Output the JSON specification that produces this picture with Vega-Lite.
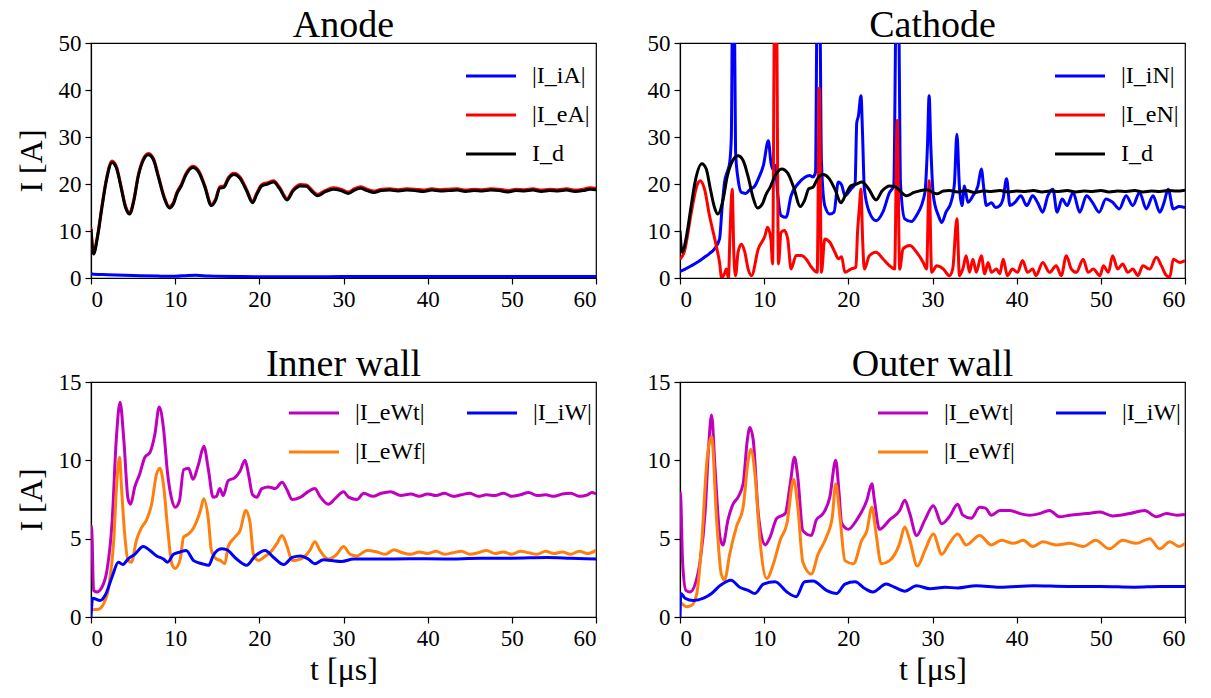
{
  "$schema": "https://vega.github.io/schema/vega-lite/v6.json",
  "background": "white",
  "padding": {"left": 14, "top": 6, "right": 10, "bottom": 4},
  "config": {
    "font": "Liberation Serif",
    "view": {"stroke": "black", "strokeWidth": 1.2},
    "axis": {"grid": false, "domainColor": "black", "domainWidth": 1.2, "tickColor": "black", "tickWidth": 1.2, "tickSize": 6, "labelColor": "black", "labelFontSize": 23, "labelFont": "Liberation Serif", "labelPadding": 4, "titleFont": "Liberation Serif", "titleFontSize": 32, "titleFontWeight": "normal", "titleColor": "black"},
    "title": {"fontSize": 38, "fontWeight": "normal", "font": "Liberation Serif", "color": "black", "offset": -13},
    "legend": {"orient": "top-right", "symbolType": "stroke", "symbolSize": 2500, "symbolStrokeWidth": 3.2, "labelFont": "Liberation Serif", "labelFontSize": 24, "labelColor": "black", "labelOffset": 14, "rowPadding": -16, "title": null, "padding": 0}
  },
  "datasets": {
    "anode": [
      {"s":"|I_iA|","t":0,"v":0.9},{"s":"|I_iA|","t":0.3,"v":0.8},{"s":"|I_iA|","t":2,"v":0.7},{"s":"|I_iA|","t":5,"v":0.55},{"s":"|I_iA|","t":8,"v":0.4},{"s":"|I_iA|","t":10,"v":0.35},{"s":"|I_iA|","t":11.5,"v":0.55},{"s":"|I_iA|","t":12.5,"v":0.6},{"s":"|I_iA|","t":14,"v":0.4},{"s":"|I_iA|","t":18,"v":0.3},{"s":"|I_iA|","t":25,"v":0.25},{"s":"|I_iA|","t":30,"v":0.3},{"s":"|I_iA|","t":40,"v":0.3},{"s":"|I_iA|","t":50,"v":0.3},{"s":"|I_iA|","t":60,"v":0.3},
      {"s":"|I_eA|","t":0,"v":10.7},{"s":"|I_eA|","t":0.3,"v":5.4},{"s":"|I_eA|","t":0.8,"v":9.3},{"s":"|I_eA|","t":1.3,"v":15.3},{"s":"|I_eA|","t":1.8,"v":20.8},{"s":"|I_eA|","t":2.5,"v":24.9},{"s":"|I_eA|","t":3.0,"v":23.8},{"s":"|I_eA|","t":3.6,"v":19.3},{"s":"|I_eA|","t":4.1,"v":15.3},{"s":"|I_eA|","t":4.6,"v":13.9},{"s":"|I_eA|","t":5.1,"v":16.8},{"s":"|I_eA|","t":5.6,"v":21.8},{"s":"|I_eA|","t":6.2,"v":25.3},{"s":"|I_eA|","t":6.8,"v":26.5},{"s":"|I_eA|","t":7.4,"v":25.5},{"s":"|I_eA|","t":8.0,"v":21.8},{"s":"|I_eA|","t":8.7,"v":17.3},{"s":"|I_eA|","t":9.3,"v":15.2},{"s":"|I_eA|","t":9.8,"v":16.1},{"s":"|I_eA|","t":10.2,"v":18.2},{"s":"|I_eA|","t":10.7,"v":19.8},{"s":"|I_eA|","t":11.3,"v":22.3},{"s":"|I_eA|","t":12.1,"v":23.8},{"s":"|I_eA|","t":12.8,"v":22.8},{"s":"|I_eA|","t":13.5,"v":19.8},{"s":"|I_eA|","t":14.3,"v":15.7},{"s":"|I_eA|","t":14.8,"v":16.8},{"s":"|I_eA|","t":15.3,"v":19.4},{"s":"|I_eA|","t":15.8,"v":19.6},{"s":"|I_eA|","t":16.3,"v":21.3},{"s":"|I_eA|","t":17.0,"v":22.3},{"s":"|I_eA|","t":17.7,"v":21.5},{"s":"|I_eA|","t":18.5,"v":18.8},{"s":"|I_eA|","t":19.2,"v":16.3},{"s":"|I_eA|","t":19.7,"v":18.1},{"s":"|I_eA|","t":20.3,"v":19.9},{"s":"|I_eA|","t":21.0,"v":20.3},{"s":"|I_eA|","t":21.7,"v":20.7},{"s":"|I_eA|","t":22.4,"v":19.3},{"s":"|I_eA|","t":23.3,"v":16.9},{"s":"|I_eA|","t":24.0,"v":18.8},{"s":"|I_eA|","t":24.9,"v":19.9},{"s":"|I_eA|","t":25.6,"v":19.8},{"s":"|I_eA|","t":26.2,"v":18.8},{"s":"|I_eA|","t":26.9,"v":17.8},{"s":"|I_eA|","t":27.8,"v":18.6},{"s":"|I_eA|","t":28.8,"v":19.2},{"s":"|I_eA|","t":29.7,"v":18.9},{"s":"|I_eA|","t":30.6,"v":18.3},{"s":"|I_eA|","t":31.3,"v":19.0},{"s":"|I_eA|","t":32.0,"v":19.4},{"s":"|I_eA|","t":32.8,"v":18.9},{"s":"|I_eA|","t":33.6,"v":18.5},{"s":"|I_eA|","t":34.5,"v":18.9},{"s":"|I_eA|","t":35.5,"v":19.0},{"s":"|I_eA|","t":36.5,"v":18.8},{"s":"|I_eA|","t":37.5,"v":19.0},{"s":"|I_eA|","t":38.5,"v":18.9},{"s":"|I_eA|","t":39.5,"v":18.7},{"s":"|I_eA|","t":40.5,"v":19.0},{"s":"|I_eA|","t":41.5,"v":18.8},{"s":"|I_eA|","t":42.5,"v":18.9},{"s":"|I_eA|","t":43.5,"v":19.0},{"s":"|I_eA|","t":44.5,"v":18.7},{"s":"|I_eA|","t":45.5,"v":18.9},{"s":"|I_eA|","t":46.5,"v":18.8},{"s":"|I_eA|","t":47.5,"v":19.0},{"s":"|I_eA|","t":48.5,"v":18.9},{"s":"|I_eA|","t":49.5,"v":18.6},{"s":"|I_eA|","t":50.5,"v":18.9},{"s":"|I_eA|","t":51.5,"v":18.8},{"s":"|I_eA|","t":52.5,"v":19.0},{"s":"|I_eA|","t":53.5,"v":18.7},{"s":"|I_eA|","t":54.5,"v":18.9},{"s":"|I_eA|","t":55.5,"v":18.8},{"s":"|I_eA|","t":56.5,"v":19.0},{"s":"|I_eA|","t":57.5,"v":18.7},{"s":"|I_eA|","t":58.5,"v":18.9},{"s":"|I_eA|","t":59.3,"v":19.2},{"s":"|I_eA|","t":60,"v":19.1},
      {"s":"I_d","t":0,"v":10.4},{"s":"I_d","t":0.3,"v":5.1},{"s":"I_d","t":0.8,"v":9},{"s":"I_d","t":1.3,"v":15},{"s":"I_d","t":1.8,"v":20.5},{"s":"I_d","t":2.5,"v":24.6},{"s":"I_d","t":3.0,"v":23.5},{"s":"I_d","t":3.6,"v":19},{"s":"I_d","t":4.1,"v":15},{"s":"I_d","t":4.6,"v":13.6},{"s":"I_d","t":5.1,"v":16.5},{"s":"I_d","t":5.6,"v":21.5},{"s":"I_d","t":6.2,"v":25},{"s":"I_d","t":6.8,"v":26.2},{"s":"I_d","t":7.4,"v":25.2},{"s":"I_d","t":8.0,"v":21.5},{"s":"I_d","t":8.7,"v":17},{"s":"I_d","t":9.3,"v":14.9},{"s":"I_d","t":9.8,"v":15.8},{"s":"I_d","t":10.2,"v":17.9},{"s":"I_d","t":10.7,"v":19.5},{"s":"I_d","t":11.3,"v":22},{"s":"I_d","t":12.1,"v":23.5},{"s":"I_d","t":12.8,"v":22.5},{"s":"I_d","t":13.5,"v":19.5},{"s":"I_d","t":14.3,"v":15.4},{"s":"I_d","t":14.8,"v":16.5},{"s":"I_d","t":15.3,"v":19.1},{"s":"I_d","t":15.8,"v":19.3},{"s":"I_d","t":16.3,"v":21},{"s":"I_d","t":17.0,"v":22.0},{"s":"I_d","t":17.7,"v":21.2},{"s":"I_d","t":18.5,"v":18.5},{"s":"I_d","t":19.2,"v":16.0},{"s":"I_d","t":19.7,"v":17.8},{"s":"I_d","t":20.3,"v":19.6},{"s":"I_d","t":21.0,"v":20.0},{"s":"I_d","t":21.7,"v":20.4},{"s":"I_d","t":22.4,"v":19},{"s":"I_d","t":23.3,"v":16.6},{"s":"I_d","t":24.0,"v":18.5},{"s":"I_d","t":24.9,"v":19.6},{"s":"I_d","t":25.6,"v":19.5},{"s":"I_d","t":26.2,"v":18.5},{"s":"I_d","t":26.9,"v":17.5},{"s":"I_d","t":27.8,"v":18.3},{"s":"I_d","t":28.8,"v":18.9},{"s":"I_d","t":29.7,"v":18.6},{"s":"I_d","t":30.6,"v":18.0},{"s":"I_d","t":31.3,"v":18.7},{"s":"I_d","t":32.0,"v":19.1},{"s":"I_d","t":32.8,"v":18.6},{"s":"I_d","t":33.6,"v":18.2},{"s":"I_d","t":34.5,"v":18.6},{"s":"I_d","t":35.5,"v":18.7},{"s":"I_d","t":36.5,"v":18.5},{"s":"I_d","t":37.5,"v":18.7},{"s":"I_d","t":38.5,"v":18.6},{"s":"I_d","t":39.5,"v":18.4},{"s":"I_d","t":40.5,"v":18.7},{"s":"I_d","t":41.5,"v":18.5},{"s":"I_d","t":42.5,"v":18.6},{"s":"I_d","t":43.5,"v":18.7},{"s":"I_d","t":44.5,"v":18.4},{"s":"I_d","t":45.5,"v":18.6},{"s":"I_d","t":46.5,"v":18.5},{"s":"I_d","t":47.5,"v":18.7},{"s":"I_d","t":48.5,"v":18.6},{"s":"I_d","t":49.5,"v":18.3},{"s":"I_d","t":50.5,"v":18.6},{"s":"I_d","t":51.5,"v":18.5},{"s":"I_d","t":52.5,"v":18.7},{"s":"I_d","t":53.5,"v":18.4},{"s":"I_d","t":54.5,"v":18.6},{"s":"I_d","t":55.5,"v":18.5},{"s":"I_d","t":56.5,"v":18.7},{"s":"I_d","t":57.5,"v":18.4},{"s":"I_d","t":58.5,"v":18.6},{"s":"I_d","t":59.3,"v":18.9},{"s":"I_d","t":60,"v":18.8}
    ],
    "cathode": [
      {"s":"|I_iN|","t":0,"v":1.4},{"s":"|I_iN|","t":0.5,"v":1.8},{"s":"|I_iN|","t":1.35,"v":2.6},{"s":"|I_iN|","t":2.2,"v":3.5},{"s":"|I_iN|","t":2.9,"v":4.4},{"s":"|I_iN|","t":3.5,"v":5.2},{"s":"|I_iN|","t":4.1,"v":6.2},{"s":"|I_iN|","t":4.7,"v":8.3},{"s":"|I_iN|","t":5.0,"v":15},{"s":"|I_iN|","t":5.3,"v":20.5},{"s":"|I_iN|","t":5.6,"v":22.5},{"s":"|I_iN|","t":5.9,"v":24.5},{"s":"|I_iN|","t":6.1,"v":30},{"s":"|I_iN|","t":6.25,"v":60},{"s":"|I_iN|","t":6.45,"v":60},{"s":"|I_iN|","t":6.6,"v":27},{"s":"|I_iN|","t":6.9,"v":21},{"s":"|I_iN|","t":7.3,"v":18.2},{"s":"|I_iN|","t":7.8,"v":18.0},{"s":"|I_iN|","t":8.3,"v":18.8},{"s":"|I_iN|","t":8.9,"v":19.6},{"s":"|I_iN|","t":9.4,"v":21.5},{"s":"|I_iN|","t":9.9,"v":23.9},{"s":"|I_iN|","t":10.5,"v":29.2},{"s":"|I_iN|","t":10.8,"v":24.6},{"s":"|I_iN|","t":11.1,"v":23},{"s":"|I_iN|","t":11.3,"v":24},{"s":"|I_iN|","t":11.6,"v":18},{"s":"|I_iN|","t":12.0,"v":13.3},{"s":"|I_iN|","t":12.6,"v":12.9},{"s":"|I_iN|","t":13.2,"v":17.5},{"s":"|I_iN|","t":14.0,"v":20.0},{"s":"|I_iN|","t":14.8,"v":21.4},{"s":"|I_iN|","t":15.4,"v":21.8},{"s":"|I_iN|","t":15.8,"v":21.5},{"s":"|I_iN|","t":16.1,"v":22.5},{"s":"|I_iN|","t":16.3,"v":60},{"s":"|I_iN|","t":16.6,"v":60},{"s":"|I_iN|","t":16.8,"v":25},{"s":"|I_iN|","t":17.2,"v":15.4},{"s":"|I_iN|","t":17.8,"v":13.6},{"s":"|I_iN|","t":18.3,"v":14},{"s":"|I_iN|","t":18.8,"v":20.4},{"s":"|I_iN|","t":19.2,"v":19.8},{"s":"|I_iN|","t":19.6,"v":17.5},{"s":"|I_iN|","t":20.3,"v":18.9},{"s":"|I_iN|","t":20.8,"v":20},{"s":"|I_iN|","t":21.0,"v":33},{"s":"|I_iN|","t":21.2,"v":34.5},{"s":"|I_iN|","t":21.5,"v":38.8},{"s":"|I_iN|","t":21.7,"v":30},{"s":"|I_iN|","t":21.9,"v":19},{"s":"|I_iN|","t":22.5,"v":14.0},{"s":"|I_iN|","t":23.3,"v":12.2},{"s":"|I_iN|","t":24.1,"v":14.0},{"s":"|I_iN|","t":24.9,"v":18.2},{"s":"|I_iN|","t":25.4,"v":19.6},{"s":"|I_iN|","t":25.7,"v":60},{"s":"|I_iN|","t":25.95,"v":60},{"s":"|I_iN|","t":26.2,"v":20},{"s":"|I_iN|","t":26.7,"v":12.6},{"s":"|I_iN|","t":27.5,"v":12.0},{"s":"|I_iN|","t":28.1,"v":13.3},{"s":"|I_iN|","t":29.1,"v":18.2},{"s":"|I_iN|","t":29.4,"v":28},{"s":"|I_iN|","t":29.6,"v":38.8},{"s":"|I_iN|","t":29.8,"v":28},{"s":"|I_iN|","t":30.1,"v":17.5},{"s":"|I_iN|","t":30.7,"v":13.3},{"s":"|I_iN|","t":31.1,"v":11.8},{"s":"|I_iN|","t":31.6,"v":14.0},{"s":"|I_iN|","t":32.2,"v":16.1},{"s":"|I_iN|","t":32.6,"v":20},{"s":"|I_iN|","t":32.9,"v":30.6},{"s":"|I_iN|","t":33.2,"v":19.3},{"s":"|I_iN|","t":33.5,"v":15.4},{"s":"|I_iN|","t":33.8,"v":19.6},{"s":"|I_iN|","t":34.2,"v":16.1},{"s":"|I_iN|","t":34.8,"v":17.5},{"s":"|I_iN|","t":35.4,"v":19.6},{"s":"|I_iN|","t":35.8,"v":23.2},{"s":"|I_iN|","t":36.1,"v":19},{"s":"|I_iN|","t":36.4,"v":15.4},{"s":"|I_iN|","t":37.0,"v":16},{"s":"|I_iN|","t":37.5,"v":15},{"s":"|I_iN|","t":38.0,"v":15.4},{"s":"|I_iN|","t":38.4,"v":17},{"s":"|I_iN|","t":38.8,"v":21.1},{"s":"|I_iN|","t":39.2,"v":15.4},{"s":"|I_iN|","t":39.8,"v":16.1},{"s":"|I_iN|","t":40.5,"v":17.5},{"s":"|I_iN|","t":41.2,"v":15.4},{"s":"|I_iN|","t":41.9,"v":17.5},{"s":"|I_iN|","t":42.5,"v":16},{"s":"|I_iN|","t":43.1,"v":14.0},{"s":"|I_iN|","t":43.7,"v":17.5},{"s":"|I_iN|","t":44.3,"v":18.9},{"s":"|I_iN|","t":44.8,"v":14.0},{"s":"|I_iN|","t":45.4,"v":16.8},{"s":"|I_iN|","t":46.0,"v":15.4},{"s":"|I_iN|","t":46.7,"v":18.2},{"s":"|I_iN|","t":47.5,"v":14.0},{"s":"|I_iN|","t":48.3,"v":17.5},{"s":"|I_iN|","t":49.0,"v":16.1},{"s":"|I_iN|","t":49.8,"v":14.0},{"s":"|I_iN|","t":50.6,"v":16.8},{"s":"|I_iN|","t":51.4,"v":16.1},{"s":"|I_iN|","t":52.2,"v":14.7},{"s":"|I_iN|","t":53.0,"v":17.5},{"s":"|I_iN|","t":53.8,"v":15.4},{"s":"|I_iN|","t":54.6,"v":18.2},{"s":"|I_iN|","t":55.4,"v":14.7},{"s":"|I_iN|","t":56.2,"v":17.5},{"s":"|I_iN|","t":57.0,"v":14.0},{"s":"|I_iN|","t":57.5,"v":16},{"s":"|I_iN|","t":58.0,"v":18.9},{"s":"|I_iN|","t":58.6,"v":14.7},{"s":"|I_iN|","t":59.3,"v":15.2},{"s":"|I_iN|","t":60,"v":15.0},
      {"s":"|I_eN|","t":0,"v":4.0},{"s":"|I_eN|","t":0.5,"v":5.5},{"s":"|I_eN|","t":1.35,"v":14},{"s":"|I_eN|","t":2.0,"v":19.6},{"s":"|I_eN|","t":2.4,"v":20.7},{"s":"|I_eN|","t":2.9,"v":19},{"s":"|I_eN|","t":3.5,"v":13.3},{"s":"|I_eN|","t":4.3,"v":6.9},{"s":"|I_eN|","t":4.7,"v":3.3},{"s":"|I_eN|","t":4.95,"v":0},{"s":"|I_eN|","t":5.3,"v":1},{"s":"|I_eN|","t":5.5,"v":1.9},{"s":"|I_eN|","t":5.75,"v":0},{"s":"|I_eN|","t":5.95,"v":10},{"s":"|I_eN|","t":6.2,"v":18.9},{"s":"|I_eN|","t":6.4,"v":5},{"s":"|I_eN|","t":6.6,"v":0.5},{"s":"|I_eN|","t":6.9,"v":5.5},{"s":"|I_eN|","t":7.3,"v":7.2},{"s":"|I_eN|","t":7.7,"v":5.5},{"s":"|I_eN|","t":8.1,"v":1.9},{"s":"|I_eN|","t":8.5,"v":0.5},{"s":"|I_eN|","t":9.3,"v":6.2},{"s":"|I_eN|","t":10.1,"v":9.0},{"s":"|I_eN|","t":10.4,"v":10.8},{"s":"|I_eN|","t":10.8,"v":8.3},{"s":"|I_eN|","t":11.0,"v":3},{"s":"|I_eN|","t":11.25,"v":60},{"s":"|I_eN|","t":11.45,"v":60},{"s":"|I_eN|","t":11.7,"v":3},{"s":"|I_eN|","t":12.0,"v":9.7},{"s":"|I_eN|","t":12.4,"v":10.1},{"s":"|I_eN|","t":12.8,"v":8.3},{"s":"|I_eN|","t":13.2,"v":1.9},{"s":"|I_eN|","t":13.8,"v":4.8},{"s":"|I_eN|","t":14.4,"v":4.8},{"s":"|I_eN|","t":15.0,"v":4.0},{"s":"|I_eN|","t":15.5,"v":2.6},{"s":"|I_eN|","t":16.0,"v":1.5},{"s":"|I_eN|","t":16.3,"v":1.2},{"s":"|I_eN|","t":16.55,"v":40.4},{"s":"|I_eN|","t":16.8,"v":1.2},{"s":"|I_eN|","t":17.2,"v":8.3},{"s":"|I_eN|","t":17.8,"v":7.6},{"s":"|I_eN|","t":18.4,"v":5.5},{"s":"|I_eN|","t":18.8,"v":4.1},{"s":"|I_eN|","t":19.2,"v":4.5},{"s":"|I_eN|","t":19.6,"v":1.2},{"s":"|I_eN|","t":20.3,"v":1.9},{"s":"|I_eN|","t":20.9,"v":2.3},{"s":"|I_eN|","t":21.1,"v":10},{"s":"|I_eN|","t":21.3,"v":14.7},{"s":"|I_eN|","t":21.5,"v":18.9},{"s":"|I_eN|","t":21.7,"v":8},{"s":"|I_eN|","t":21.9,"v":1.9},{"s":"|I_eN|","t":22.5,"v":4.75},{"s":"|I_eN|","t":23.3,"v":5.5},{"s":"|I_eN|","t":24.1,"v":4.1},{"s":"|I_eN|","t":24.9,"v":2.6},{"s":"|I_eN|","t":25.5,"v":1.9},{"s":"|I_eN|","t":25.8,"v":33.5},{"s":"|I_eN|","t":26.1,"v":1.9},{"s":"|I_eN|","t":26.5,"v":6.2},{"s":"|I_eN|","t":27.3,"v":6.9},{"s":"|I_eN|","t":28.1,"v":5.5},{"s":"|I_eN|","t":28.9,"v":3.3},{"s":"|I_eN|","t":29.3,"v":1.9},{"s":"|I_eN|","t":29.6,"v":20.7},{"s":"|I_eN|","t":29.9,"v":1.2},{"s":"|I_eN|","t":30.5,"v":2.6},{"s":"|I_eN|","t":31.3,"v":1.9},{"s":"|I_eN|","t":32.0,"v":0.5},{"s":"|I_eN|","t":32.4,"v":1.9},{"s":"|I_eN|","t":32.9,"v":12.6},{"s":"|I_eN|","t":33.2,"v":0.5},{"s":"|I_eN|","t":33.6,"v":1.9},{"s":"|I_eN|","t":34.0,"v":4.75},{"s":"|I_eN|","t":34.4,"v":1.2},{"s":"|I_eN|","t":34.8,"v":4.0},{"s":"|I_eN|","t":35.2,"v":1.2},{"s":"|I_eN|","t":35.8,"v":4.75},{"s":"|I_eN|","t":36.2,"v":0.9},{"s":"|I_eN|","t":36.6,"v":3.3},{"s":"|I_eN|","t":37.0,"v":1.2},{"s":"|I_eN|","t":37.6,"v":1.9},{"s":"|I_eN|","t":38.0,"v":0.9},{"s":"|I_eN|","t":38.4,"v":4.0},{"s":"|I_eN|","t":38.9,"v":0.5},{"s":"|I_eN|","t":39.5,"v":1.9},{"s":"|I_eN|","t":40.1,"v":1.2},{"s":"|I_eN|","t":40.7,"v":3.7},{"s":"|I_eN|","t":41.3,"v":1.2},{"s":"|I_eN|","t":41.9,"v":1.9},{"s":"|I_eN|","t":42.3,"v":0.5},{"s":"|I_eN|","t":43.1,"v":3.3},{"s":"|I_eN|","t":43.9,"v":1.2},{"s":"|I_eN|","t":44.7,"v":2.6},{"s":"|I_eN|","t":45.3,"v":0.5},{"s":"|I_eN|","t":45.9,"v":4.75},{"s":"|I_eN|","t":46.5,"v":1.9},{"s":"|I_eN|","t":47.1,"v":1.2},{"s":"|I_eN|","t":47.9,"v":4.0},{"s":"|I_eN|","t":48.5,"v":1.2},{"s":"|I_eN|","t":49.1,"v":1.9},{"s":"|I_eN|","t":49.9,"v":0.5},{"s":"|I_eN|","t":50.3,"v":2.6},{"s":"|I_eN|","t":50.9,"v":1.2},{"s":"|I_eN|","t":51.4,"v":4.75},{"s":"|I_eN|","t":52.0,"v":1.9},{"s":"|I_eN|","t":52.6,"v":3.0},{"s":"|I_eN|","t":53.2,"v":1.2},{"s":"|I_eN|","t":53.8,"v":1.9},{"s":"|I_eN|","t":54.4,"v":0.5},{"s":"|I_eN|","t":55.0,"v":2.6},{"s":"|I_eN|","t":55.8,"v":1.9},{"s":"|I_eN|","t":56.6,"v":4.4},{"s":"|I_eN|","t":57.2,"v":2.6},{"s":"|I_eN|","t":57.8,"v":0.5},{"s":"|I_eN|","t":58.2,"v":0.2},{"s":"|I_eN|","t":58.6,"v":4.0},{"s":"|I_eN|","t":59.4,"v":3.3},{"s":"|I_eN|","t":60,"v":3.7},
      {"s":"I_d","t":0,"v":10.1},{"s":"I_d","t":0.25,"v":5.5},{"s":"I_d","t":0.8,"v":9.2},{"s":"I_d","t":1.3,"v":15},{"s":"I_d","t":1.8,"v":20.5},{"s":"I_d","t":2.6,"v":24.3},{"s":"I_d","t":3.1,"v":23.3},{"s":"I_d","t":3.6,"v":19},{"s":"I_d","t":4.1,"v":15},{"s":"I_d","t":4.5,"v":13.6},{"s":"I_d","t":5.1,"v":16.5},{"s":"I_d","t":5.6,"v":21.5},{"s":"I_d","t":6.2,"v":24.8},{"s":"I_d","t":6.9,"v":26.0},{"s":"I_d","t":7.5,"v":25.0},{"s":"I_d","t":8.1,"v":21.5},{"s":"I_d","t":8.7,"v":17},{"s":"I_d","t":9.2,"v":14.9},{"s":"I_d","t":9.8,"v":15.8},{"s":"I_d","t":10.2,"v":17.7},{"s":"I_d","t":10.7,"v":19.3},{"s":"I_d","t":11.3,"v":21.8},{"s":"I_d","t":12.1,"v":23.2},{"s":"I_d","t":12.8,"v":22.3},{"s":"I_d","t":13.5,"v":19.3},{"s":"I_d","t":14.3,"v":15.2},{"s":"I_d","t":14.8,"v":16.5},{"s":"I_d","t":15.3,"v":19.0},{"s":"I_d","t":15.8,"v":19.3},{"s":"I_d","t":16.3,"v":21},{"s":"I_d","t":17.0,"v":22.0},{"s":"I_d","t":17.7,"v":21.2},{"s":"I_d","t":18.5,"v":18.5},{"s":"I_d","t":19.1,"v":16.0},{"s":"I_d","t":19.7,"v":17.8},{"s":"I_d","t":20.3,"v":19.6},{"s":"I_d","t":21.0,"v":20.0},{"s":"I_d","t":21.6,"v":20.4},{"s":"I_d","t":22.4,"v":19},{"s":"I_d","t":23.3,"v":16.6},{"s":"I_d","t":24.0,"v":18.5},{"s":"I_d","t":24.9,"v":19.6},{"s":"I_d","t":25.6,"v":19.4},{"s":"I_d","t":26.2,"v":18.4},{"s":"I_d","t":26.9,"v":17.5},{"s":"I_d","t":27.8,"v":18.2},{"s":"I_d","t":29.3,"v":18.8},{"s":"I_d","t":30.5,"v":17.9},{"s":"I_d","t":31.3,"v":18.5},{"s":"I_d","t":32.0,"v":18.6},{"s":"I_d","t":33.0,"v":18.3},{"s":"I_d","t":34.0,"v":18.6},{"s":"I_d","t":35.0,"v":18.2},{"s":"I_d","t":36.0,"v":18.5},{"s":"I_d","t":37.0,"v":18.4},{"s":"I_d","t":38.0,"v":18.6},{"s":"I_d","t":39.0,"v":18.3},{"s":"I_d","t":40.0,"v":18.5},{"s":"I_d","t":41.0,"v":18.4},{"s":"I_d","t":42.0,"v":18.6},{"s":"I_d","t":43.0,"v":18.3},{"s":"I_d","t":44.0,"v":18.5},{"s":"I_d","t":45.0,"v":18.4},{"s":"I_d","t":46.0,"v":18.6},{"s":"I_d","t":47.0,"v":18.3},{"s":"I_d","t":48.0,"v":18.5},{"s":"I_d","t":49.0,"v":18.4},{"s":"I_d","t":50.0,"v":18.6},{"s":"I_d","t":51.0,"v":18.3},{"s":"I_d","t":52.0,"v":18.5},{"s":"I_d","t":53.0,"v":18.4},{"s":"I_d","t":54.0,"v":18.6},{"s":"I_d","t":55.0,"v":18.3},{"s":"I_d","t":56.0,"v":18.5},{"s":"I_d","t":57.0,"v":18.4},{"s":"I_d","t":58.0,"v":18.6},{"s":"I_d","t":59.0,"v":18.5},{"s":"I_d","t":60,"v":18.7}
    ],
    "inner": [
      {"s":"|I_eWt|","t":0,"v":5.85},{"s":"|I_eWt|","t":0.1,"v":5.5},{"s":"|I_eWt|","t":0.3,"v":1.7},{"s":"|I_eWt|","t":0.7,"v":1.6},{"s":"|I_eWt|","t":1.3,"v":1.9},{"s":"|I_eWt|","t":1.9,"v":3.0},{"s":"|I_eWt|","t":2.5,"v":6.0},{"s":"|I_eWt|","t":3.0,"v":11.3},{"s":"|I_eWt|","t":3.45,"v":13.7},{"s":"|I_eWt|","t":3.9,"v":11.3},{"s":"|I_eWt|","t":4.4,"v":7.55},{"s":"|I_eWt|","t":4.7,"v":7.2},{"s":"|I_eWt|","t":5.2,"v":8.3},{"s":"|I_eWt|","t":5.8,"v":9.15},{"s":"|I_eWt|","t":6.4,"v":10.2},{"s":"|I_eWt|","t":7.0,"v":10.5},{"s":"|I_eWt|","t":7.6,"v":11.7},{"s":"|I_eWt|","t":8.1,"v":13.4},{"s":"|I_eWt|","t":8.6,"v":12.1},{"s":"|I_eWt|","t":9.1,"v":9.15},{"s":"|I_eWt|","t":9.6,"v":7.5},{"s":"|I_eWt|","t":10.0,"v":7.0},{"s":"|I_eWt|","t":10.5,"v":7.4},{"s":"|I_eWt|","t":11.0,"v":9.4},{"s":"|I_eWt|","t":11.6,"v":9.5},{"s":"|I_eWt|","t":12.1,"v":8.8},{"s":"|I_eWt|","t":12.8,"v":9.8},{"s":"|I_eWt|","t":13.4,"v":10.9},{"s":"|I_eWt|","t":13.95,"v":9.4},{"s":"|I_eWt|","t":14.5,"v":7.65},{"s":"|I_eWt|","t":14.9,"v":7.7},{"s":"|I_eWt|","t":15.3,"v":8.2},{"s":"|I_eWt|","t":15.7,"v":7.75},{"s":"|I_eWt|","t":16.3,"v":8.7},{"s":"|I_eWt|","t":17.1,"v":8.9},{"s":"|I_eWt|","t":17.7,"v":9.3},{"s":"|I_eWt|","t":18.3,"v":10.0},{"s":"|I_eWt|","t":18.7,"v":9.15},{"s":"|I_eWt|","t":19.2,"v":7.8},{"s":"|I_eWt|","t":19.7,"v":7.65},{"s":"|I_eWt|","t":20.3,"v":8.2},{"s":"|I_eWt|","t":21.1,"v":8.3},{"s":"|I_eWt|","t":21.9,"v":8.2},{"s":"|I_eWt|","t":22.7,"v":8.6},{"s":"|I_eWt|","t":23.3,"v":8.1},{"s":"|I_eWt|","t":23.9,"v":7.5},{"s":"|I_eWt|","t":24.9,"v":7.65},{"s":"|I_eWt|","t":25.8,"v":8.0},{"s":"|I_eWt|","t":26.6,"v":8.2},{"s":"|I_eWt|","t":27.2,"v":7.7},{"s":"|I_eWt|","t":28.2,"v":7.2},{"s":"|I_eWt|","t":29.0,"v":7.55},{"s":"|I_eWt|","t":30.0,"v":8.0},{"s":"|I_eWt|","t":30.6,"v":7.65},{"s":"|I_eWt|","t":31.6,"v":7.5},{"s":"|I_eWt|","t":32.4,"v":7.9},{"s":"|I_eWt|","t":33.5,"v":7.7},{"s":"|I_eWt|","t":34.5,"v":7.9},{"s":"|I_eWt|","t":35.6,"v":8.0},{"s":"|I_eWt|","t":36.8,"v":7.75},{"s":"|I_eWt|","t":38.0,"v":7.85},{"s":"|I_eWt|","t":39.0,"v":7.7},{"s":"|I_eWt|","t":40.0,"v":7.85},{"s":"|I_eWt|","t":41.0,"v":7.75},{"s":"|I_eWt|","t":42.0,"v":7.9},{"s":"|I_eWt|","t":43.0,"v":7.7},{"s":"|I_eWt|","t":44.0,"v":7.8},{"s":"|I_eWt|","t":45.0,"v":7.9},{"s":"|I_eWt|","t":46.0,"v":7.7},{"s":"|I_eWt|","t":47.0,"v":7.8},{"s":"|I_eWt|","t":48.0,"v":7.75},{"s":"|I_eWt|","t":49.0,"v":7.9},{"s":"|I_eWt|","t":50.0,"v":7.7},{"s":"|I_eWt|","t":51.0,"v":7.8},{"s":"|I_eWt|","t":52.0,"v":7.95},{"s":"|I_eWt|","t":53.0,"v":7.75},{"s":"|I_eWt|","t":54.0,"v":7.8},{"s":"|I_eWt|","t":55.0,"v":7.7},{"s":"|I_eWt|","t":56.0,"v":7.85},{"s":"|I_eWt|","t":57.0,"v":7.9},{"s":"|I_eWt|","t":58.0,"v":7.7},{"s":"|I_eWt|","t":59.0,"v":7.8},{"s":"|I_eWt|","t":59.5,"v":7.95},{"s":"|I_eWt|","t":60,"v":7.85},
      {"s":"|I_eWf|","t":0,"v":0.5},{"s":"|I_eWf|","t":0.2,"v":0.47},{"s":"|I_eWf|","t":0.9,"v":0.5},{"s":"|I_eWf|","t":1.5,"v":0.85},{"s":"|I_eWf|","t":2.1,"v":1.9},{"s":"|I_eWf|","t":2.7,"v":4.9},{"s":"|I_eWf|","t":3.1,"v":8.9},{"s":"|I_eWf|","t":3.4,"v":10.2},{"s":"|I_eWf|","t":3.6,"v":8.5},{"s":"|I_eWf|","t":4.0,"v":5.3},{"s":"|I_eWf|","t":4.4,"v":3.6},{"s":"|I_eWf|","t":4.8,"v":3.5},{"s":"|I_eWf|","t":5.4,"v":4.9},{"s":"|I_eWf|","t":6.0,"v":5.7},{"s":"|I_eWf|","t":6.6,"v":6.2},{"s":"|I_eWf|","t":7.2,"v":7.2},{"s":"|I_eWf|","t":7.8,"v":9.15},{"s":"|I_eWf|","t":8.2,"v":9.5},{"s":"|I_eWf|","t":8.6,"v":8.5},{"s":"|I_eWf|","t":9.1,"v":5.7},{"s":"|I_eWf|","t":9.6,"v":3.4},{"s":"|I_eWf|","t":10.0,"v":3.1},{"s":"|I_eWf|","t":10.6,"v":3.7},{"s":"|I_eWf|","t":11.0,"v":5.1},{"s":"|I_eWf|","t":11.6,"v":5.3},{"s":"|I_eWf|","t":12.2,"v":5.7},{"s":"|I_eWf|","t":13.0,"v":6.8},{"s":"|I_eWf|","t":13.4,"v":7.55},{"s":"|I_eWf|","t":13.95,"v":6.2},{"s":"|I_eWf|","t":14.3,"v":4.25},{"s":"|I_eWf|","t":14.9,"v":3.7},{"s":"|I_eWf|","t":15.4,"v":3.6},{"s":"|I_eWf|","t":15.9,"v":3.4},{"s":"|I_eWf|","t":16.3,"v":4.5},{"s":"|I_eWf|","t":17.1,"v":5.1},{"s":"|I_eWf|","t":17.7,"v":5.5},{"s":"|I_eWf|","t":18.4,"v":6.8},{"s":"|I_eWf|","t":18.9,"v":6.0},{"s":"|I_eWf|","t":19.3,"v":4.0},{"s":"|I_eWf|","t":19.9,"v":3.6},{"s":"|I_eWf|","t":20.5,"v":3.8},{"s":"|I_eWf|","t":21.5,"v":4.25},{"s":"|I_eWf|","t":22.1,"v":4.7},{"s":"|I_eWf|","t":22.7,"v":5.2},{"s":"|I_eWf|","t":23.3,"v":4.5},{"s":"|I_eWf|","t":23.9,"v":3.6},{"s":"|I_eWf|","t":24.9,"v":3.7},{"s":"|I_eWf|","t":26.0,"v":4.25},{"s":"|I_eWf|","t":26.6,"v":4.8},{"s":"|I_eWf|","t":27.2,"v":4.25},{"s":"|I_eWf|","t":28.2,"v":3.7},{"s":"|I_eWf|","t":29.2,"v":4.0},{"s":"|I_eWf|","t":30.0,"v":4.5},{"s":"|I_eWf|","t":30.8,"v":4.0},{"s":"|I_eWf|","t":31.6,"v":3.9},{"s":"|I_eWf|","t":32.8,"v":4.25},{"s":"|I_eWf|","t":34.0,"v":4.15},{"s":"|I_eWf|","t":35.0,"v":4.0},{"s":"|I_eWf|","t":36.0,"v":4.3},{"s":"|I_eWf|","t":37.0,"v":4.1},{"s":"|I_eWf|","t":38.0,"v":4.0},{"s":"|I_eWf|","t":39.0,"v":4.15},{"s":"|I_eWf|","t":40.0,"v":4.05},{"s":"|I_eWf|","t":41.0,"v":4.2},{"s":"|I_eWf|","t":42.0,"v":4.0},{"s":"|I_eWf|","t":43.0,"v":4.1},{"s":"|I_eWf|","t":44.0,"v":4.2},{"s":"|I_eWf|","t":45.0,"v":4.0},{"s":"|I_eWf|","t":46.0,"v":4.1},{"s":"|I_eWf|","t":47.0,"v":4.25},{"s":"|I_eWf|","t":48.0,"v":4.05},{"s":"|I_eWf|","t":49.0,"v":4.15},{"s":"|I_eWf|","t":50.0,"v":4.0},{"s":"|I_eWf|","t":51.0,"v":4.2},{"s":"|I_eWf|","t":52.0,"v":4.1},{"s":"|I_eWf|","t":53.0,"v":4.0},{"s":"|I_eWf|","t":54.0,"v":4.2},{"s":"|I_eWf|","t":55.0,"v":4.05},{"s":"|I_eWf|","t":56.0,"v":4.15},{"s":"|I_eWf|","t":57.0,"v":4.0},{"s":"|I_eWf|","t":58.0,"v":4.2},{"s":"|I_eWf|","t":59.0,"v":4.05},{"s":"|I_eWf|","t":60,"v":4.25},
      {"s":"|I_iW|","t":0,"v":0},{"s":"|I_iW|","t":0.2,"v":1.2},{"s":"|I_iW|","t":1.1,"v":1.05},{"s":"|I_iW|","t":1.7,"v":1.4},{"s":"|I_iW|","t":2.5,"v":2.55},{"s":"|I_iW|","t":3.25,"v":3.5},{"s":"|I_iW|","t":3.8,"v":3.35},{"s":"|I_iW|","t":4.4,"v":3.7},{"s":"|I_iW|","t":5.2,"v":4.0},{"s":"|I_iW|","t":6.2,"v":4.5},{"s":"|I_iW|","t":7.0,"v":4.25},{"s":"|I_iW|","t":7.8,"v":3.9},{"s":"|I_iW|","t":8.6,"v":3.7},{"s":"|I_iW|","t":9.1,"v":3.5},{"s":"|I_iW|","t":9.8,"v":4.0},{"s":"|I_iW|","t":10.6,"v":4.15},{"s":"|I_iW|","t":11.3,"v":4.25},{"s":"|I_iW|","t":12.2,"v":3.6},{"s":"|I_iW|","t":13.2,"v":3.4},{"s":"|I_iW|","t":14.0,"v":3.3},{"s":"|I_iW|","t":14.5,"v":3.9},{"s":"|I_iW|","t":15.5,"v":4.35},{"s":"|I_iW|","t":16.1,"v":4.3},{"s":"|I_iW|","t":17.3,"v":3.7},{"s":"|I_iW|","t":18.5,"v":3.3},{"s":"|I_iW|","t":19.5,"v":3.9},{"s":"|I_iW|","t":20.7,"v":4.25},{"s":"|I_iW|","t":21.7,"v":3.8},{"s":"|I_iW|","t":22.9,"v":3.35},{"s":"|I_iW|","t":23.9,"v":3.8},{"s":"|I_iW|","t":24.9,"v":3.9},{"s":"|I_iW|","t":25.8,"v":3.7},{"s":"|I_iW|","t":26.6,"v":3.4},{"s":"|I_iW|","t":27.6,"v":3.65},{"s":"|I_iW|","t":28.6,"v":3.6},{"s":"|I_iW|","t":29.8,"v":3.55},{"s":"|I_iW|","t":31.2,"v":3.7},{"s":"|I_iW|","t":34,"v":3.7},{"s":"|I_iW|","t":38,"v":3.72},{"s":"|I_iW|","t":42,"v":3.7},{"s":"|I_iW|","t":46.3,"v":3.75},{"s":"|I_iW|","t":50,"v":3.75},{"s":"|I_iW|","t":54.2,"v":3.8},{"s":"|I_iW|","t":57,"v":3.75},{"s":"|I_iW|","t":60,"v":3.7}
    ],
    "outer": [
      {"s":"|I_eWt|","t":0,"v":8.0},{"s":"|I_eWt|","t":0.1,"v":7.5},{"s":"|I_eWt|","t":0.3,"v":3.6},{"s":"|I_eWt|","t":0.7,"v":1.7},{"s":"|I_eWt|","t":1.2,"v":1.6},{"s":"|I_eWt|","t":1.8,"v":2.1},{"s":"|I_eWt|","t":2.4,"v":3.6},{"s":"|I_eWt|","t":3.0,"v":6.8},{"s":"|I_eWt|","t":3.4,"v":10.85},{"s":"|I_eWt|","t":3.75,"v":12.9},{"s":"|I_eWt|","t":4.15,"v":9.6},{"s":"|I_eWt|","t":4.75,"v":5.1},{"s":"|I_eWt|","t":5.1,"v":4.6},{"s":"|I_eWt|","t":5.7,"v":6.2},{"s":"|I_eWt|","t":6.3,"v":7.2},{"s":"|I_eWt|","t":6.9,"v":7.65},{"s":"|I_eWt|","t":7.5,"v":8.5},{"s":"|I_eWt|","t":8.0,"v":11.3},{"s":"|I_eWt|","t":8.3,"v":12.1},{"s":"|I_eWt|","t":8.7,"v":11.3},{"s":"|I_eWt|","t":9.3,"v":6.6},{"s":"|I_eWt|","t":10.1,"v":4.6},{"s":"|I_eWt|","t":10.7,"v":5.1},{"s":"|I_eWt|","t":11.5,"v":6.3},{"s":"|I_eWt|","t":12.5,"v":6.6},{"s":"|I_eWt|","t":13.1,"v":8.5},{"s":"|I_eWt|","t":13.6,"v":10.2},{"s":"|I_eWt|","t":14.0,"v":8.9},{"s":"|I_eWt|","t":14.6,"v":5.5},{"s":"|I_eWt|","t":15.6,"v":5.2},{"s":"|I_eWt|","t":16.2,"v":6.2},{"s":"|I_eWt|","t":17.0,"v":6.6},{"s":"|I_eWt|","t":17.8,"v":7.65},{"s":"|I_eWt|","t":18.5,"v":10.0},{"s":"|I_eWt|","t":18.9,"v":7.9},{"s":"|I_eWt|","t":19.2,"v":6.0},{"s":"|I_eWt|","t":20.0,"v":5.6},{"s":"|I_eWt|","t":21.0,"v":6.2},{"s":"|I_eWt|","t":22.2,"v":7.45},{"s":"|I_eWt|","t":22.8,"v":8.5},{"s":"|I_eWt|","t":23.1,"v":7.45},{"s":"|I_eWt|","t":23.7,"v":5.6},{"s":"|I_eWt|","t":24.9,"v":6.2},{"s":"|I_eWt|","t":26.1,"v":6.8},{"s":"|I_eWt|","t":26.7,"v":7.45},{"s":"|I_eWt|","t":27.3,"v":6.6},{"s":"|I_eWt|","t":28.1,"v":5.2},{"s":"|I_eWt|","t":29.1,"v":6.2},{"s":"|I_eWt|","t":30.1,"v":7.1},{"s":"|I_eWt|","t":31.1,"v":5.95},{"s":"|I_eWt|","t":32.0,"v":6.4},{"s":"|I_eWt|","t":33.0,"v":7.2},{"s":"|I_eWt|","t":33.6,"v":6.5},{"s":"|I_eWt|","t":34.6,"v":6.3},{"s":"|I_eWt|","t":35.6,"v":7.0},{"s":"|I_eWt|","t":36.3,"v":6.95},{"s":"|I_eWt|","t":37.0,"v":6.5},{"s":"|I_eWt|","t":38.0,"v":6.8},{"s":"|I_eWt|","t":39.2,"v":6.8},{"s":"|I_eWt|","t":40.4,"v":6.6},{"s":"|I_eWt|","t":41.5,"v":6.5},{"s":"|I_eWt|","t":42.7,"v":6.6},{"s":"|I_eWt|","t":43.9,"v":6.8},{"s":"|I_eWt|","t":45.1,"v":6.4},{"s":"|I_eWt|","t":46.3,"v":6.5},{"s":"|I_eWt|","t":48.3,"v":6.6},{"s":"|I_eWt|","t":49.9,"v":6.7},{"s":"|I_eWt|","t":51.4,"v":6.45},{"s":"|I_eWt|","t":53.4,"v":6.6},{"s":"|I_eWt|","t":55.2,"v":6.8},{"s":"|I_eWt|","t":56.6,"v":6.4},{"s":"|I_eWt|","t":57.8,"v":6.6},{"s":"|I_eWt|","t":59.0,"v":6.5},{"s":"|I_eWt|","t":60,"v":6.55},
      {"s":"|I_eWf|","t":0,"v":0.9},{"s":"|I_eWf|","t":0.2,"v":0.85},{"s":"|I_eWf|","t":0.8,"v":0.65},{"s":"|I_eWf|","t":1.4,"v":0.75},{"s":"|I_eWf|","t":2.0,"v":1.5},{"s":"|I_eWf|","t":2.6,"v":4.9},{"s":"|I_eWf|","t":3.2,"v":10.0},{"s":"|I_eWf|","t":3.75,"v":11.5},{"s":"|I_eWf|","t":4.35,"v":6.2},{"s":"|I_eWf|","t":4.9,"v":2.75},{"s":"|I_eWf|","t":5.3,"v":2.35},{"s":"|I_eWf|","t":5.9,"v":4.0},{"s":"|I_eWf|","t":6.7,"v":5.75},{"s":"|I_eWf|","t":7.5,"v":7.0},{"s":"|I_eWf|","t":8.1,"v":10.0},{"s":"|I_eWf|","t":8.4,"v":10.7},{"s":"|I_eWf|","t":8.9,"v":9.15},{"s":"|I_eWf|","t":9.5,"v":4.9},{"s":"|I_eWf|","t":10.3,"v":2.45},{"s":"|I_eWf|","t":11.1,"v":3.4},{"s":"|I_eWf|","t":11.9,"v":4.9},{"s":"|I_eWf|","t":12.7,"v":5.95},{"s":"|I_eWf|","t":13.5,"v":8.8},{"s":"|I_eWf|","t":14.0,"v":7.0},{"s":"|I_eWf|","t":14.6,"v":3.5},{"s":"|I_eWf|","t":15.6,"v":2.75},{"s":"|I_eWf|","t":16.4,"v":4.0},{"s":"|I_eWf|","t":17.4,"v":5.1},{"s":"|I_eWf|","t":18.1,"v":6.4},{"s":"|I_eWf|","t":18.5,"v":8.5},{"s":"|I_eWf|","t":19.0,"v":6.4},{"s":"|I_eWf|","t":19.6,"v":3.6},{"s":"|I_eWf|","t":20.6,"v":3.4},{"s":"|I_eWf|","t":21.6,"v":4.9},{"s":"|I_eWf|","t":22.2,"v":5.5},{"s":"|I_eWf|","t":22.8,"v":7.0},{"s":"|I_eWf|","t":23.3,"v":5.3},{"s":"|I_eWf|","t":23.9,"v":3.4},{"s":"|I_eWf|","t":24.9,"v":3.6},{"s":"|I_eWf|","t":26.1,"v":4.7},{"s":"|I_eWf|","t":26.7,"v":5.75},{"s":"|I_eWf|","t":27.3,"v":4.9},{"s":"|I_eWf|","t":28.2,"v":3.25},{"s":"|I_eWf|","t":29.1,"v":4.25},{"s":"|I_eWf|","t":30.1,"v":5.3},{"s":"|I_eWf|","t":31.1,"v":4.0},{"s":"|I_eWf|","t":32.0,"v":4.7},{"s":"|I_eWf|","t":33.0,"v":5.3},{"s":"|I_eWf|","t":34.0,"v":4.6},{"s":"|I_eWf|","t":35.6,"v":5.2},{"s":"|I_eWf|","t":37.0,"v":4.6},{"s":"|I_eWf|","t":38.2,"v":4.9},{"s":"|I_eWf|","t":39.6,"v":4.7},{"s":"|I_eWf|","t":40.8,"v":4.9},{"s":"|I_eWf|","t":41.9,"v":4.5},{"s":"|I_eWf|","t":43.1,"v":4.8},{"s":"|I_eWf|","t":44.7,"v":4.6},{"s":"|I_eWf|","t":46.3,"v":4.7},{"s":"|I_eWf|","t":47.9,"v":4.5},{"s":"|I_eWf|","t":49.4,"v":4.9},{"s":"|I_eWf|","t":51.0,"v":4.35},{"s":"|I_eWf|","t":52.6,"v":4.9},{"s":"|I_eWf|","t":54.2,"v":4.7},{"s":"|I_eWf|","t":55.8,"v":5.0},{"s":"|I_eWf|","t":57.0,"v":4.35},{"s":"|I_eWf|","t":58.2,"v":4.8},{"s":"|I_eWf|","t":59.3,"v":4.5},{"s":"|I_eWf|","t":60,"v":4.7},
      {"s":"|I_iW|","t":0,"v":0},{"s":"|I_iW|","t":0.1,"v":1.5},{"s":"|I_iW|","t":0.6,"v":1.2},{"s":"|I_iW|","t":1.6,"v":1.05},{"s":"|I_iW|","t":2.8,"v":1.2},{"s":"|I_iW|","t":3.75,"v":1.5},{"s":"|I_iW|","t":4.75,"v":2.0},{"s":"|I_iW|","t":6.05,"v":2.35},{"s":"|I_iW|","t":7.1,"v":1.9},{"s":"|I_iW|","t":8.1,"v":1.7},{"s":"|I_iW|","t":8.9,"v":1.5},{"s":"|I_iW|","t":9.9,"v":2.1},{"s":"|I_iW|","t":11.3,"v":2.25},{"s":"|I_iW|","t":12.7,"v":1.6},{"s":"|I_iW|","t":13.8,"v":1.3},{"s":"|I_iW|","t":14.8,"v":2.25},{"s":"|I_iW|","t":15.8,"v":2.3},{"s":"|I_iW|","t":17.4,"v":1.7},{"s":"|I_iW|","t":18.6,"v":1.5},{"s":"|I_iW|","t":19.6,"v":2.1},{"s":"|I_iW|","t":20.8,"v":2.25},{"s":"|I_iW|","t":22.0,"v":1.8},{"s":"|I_iW|","t":22.9,"v":1.6},{"s":"|I_iW|","t":24.5,"v":2.1},{"s":"|I_iW|","t":25.5,"v":1.9},{"s":"|I_iW|","t":26.7,"v":1.65},{"s":"|I_iW|","t":28.1,"v":2.0},{"s":"|I_iW|","t":29.7,"v":1.8},{"s":"|I_iW|","t":31.5,"v":1.9},{"s":"|I_iW|","t":33,"v":1.85},{"s":"|I_iW|","t":35.2,"v":2.0},{"s":"|I_iW|","t":38,"v":1.9},{"s":"|I_iW|","t":42,"v":2.0},{"s":"|I_iW|","t":46,"v":1.95},{"s":"|I_iW|","t":50,"v":1.95},{"s":"|I_iW|","t":54,"v":1.9},{"s":"|I_iW|","t":57,"v":1.95},{"s":"|I_iW|","t":60,"v":1.95}
    ]
  },
  "resolve": {"scale": {"color": "independent", "y": "independent", "x": "independent"}, "legend": {"color": "independent"}},
  "columns": 2,
  "bounds": "flush",
  "spacing": {"row": 104, "column": 84},
  "concat": [
    {
      "title": "Anode", "width": 505, "height": 235,
      "data": {"name": "anode"},
      "mark": {"type": "line", "strokeWidth": 3, "clip": true, "interpolate": "monotone"},
      "encoding": {
        "x": {"field": "t", "type": "quantitative", "scale": {"domain": [0, 60], "nice": false}, "axis": {"values": [0, 10, 20, 30, 40, 50, 60], "title": null}},
        "y": {"field": "v", "type": "quantitative", "scale": {"domain": [0, 50], "nice": false}, "axis": {"values": [0, 10, 20, 30, 40, 50], "title": "I [A]", "titlePadding": 10}},
        "color": {"field": "s", "type": "nominal", "scale": {"domain": ["|I_iA|", "|I_eA|", "I_d"], "range": ["#0000ff", "#ff0000", "#000000"]}, "legend": {"offset": 6}}
      }
    },
    {
      "title": "Cathode", "width": 505, "height": 235,
      "data": {"name": "cathode"},
      "mark": {"type": "line", "strokeWidth": 3, "clip": true, "interpolate": "monotone"},
      "encoding": {
        "x": {"field": "t", "type": "quantitative", "scale": {"domain": [0, 60], "nice": false}, "axis": {"values": [0, 10, 20, 30, 40, 50, 60], "title": null}},
        "y": {"field": "v", "type": "quantitative", "scale": {"domain": [0, 50], "nice": false}, "axis": {"values": [0, 10, 20, 30, 40, 50], "title": null}},
        "color": {"field": "s", "type": "nominal", "scale": {"domain": ["|I_iN|", "|I_eN|", "I_d"], "range": ["#0000ff", "#ff0000", "#000000"]}, "legend": {"offset": 6}}
      }
    },
    {
      "title": "Inner wall", "width": 505, "height": 235,
      "data": {"name": "inner"},
      "mark": {"type": "line", "strokeWidth": 3, "clip": true, "interpolate": "monotone"},
      "encoding": {
        "x": {"field": "t", "type": "quantitative", "scale": {"domain": [0, 60], "nice": false}, "axis": {"values": [0, 10, 20, 30, 40, 50, 60], "title": "t [μs]"}},
        "y": {"field": "v", "type": "quantitative", "scale": {"domain": [0, 15], "nice": false}, "axis": {"values": [0, 5, 10, 15], "title": "I [A]", "titlePadding": 10}},
        "color": {"field": "s", "type": "nominal", "scale": {"domain": ["|I_eWt|", "|I_eWf|", "|I_iW|"], "range": ["#bf00bf", "#ff7f0e", "#0000ff"]}, "legend": {"offset": 4, "columns": 2, "columnPadding": 34}}
      }
    },
    {
      "title": "Outer wall", "width": 505, "height": 235,
      "data": {"name": "outer"},
      "mark": {"type": "line", "strokeWidth": 3, "clip": true, "interpolate": "monotone"},
      "encoding": {
        "x": {"field": "t", "type": "quantitative", "scale": {"domain": [0, 60], "nice": false}, "axis": {"values": [0, 10, 20, 30, 40, 50, 60], "title": "t [μs]"}},
        "y": {"field": "v", "type": "quantitative", "scale": {"domain": [0, 15], "nice": false}, "axis": {"values": [0, 5, 10, 15], "title": null}},
        "color": {"field": "s", "type": "nominal", "scale": {"domain": ["|I_eWt|", "|I_eWf|", "|I_iW|"], "range": ["#bf00bf", "#ff7f0e", "#0000ff"]}, "legend": {"offset": 4, "columns": 2, "columnPadding": 34}}
      }
    }
  ]
}
